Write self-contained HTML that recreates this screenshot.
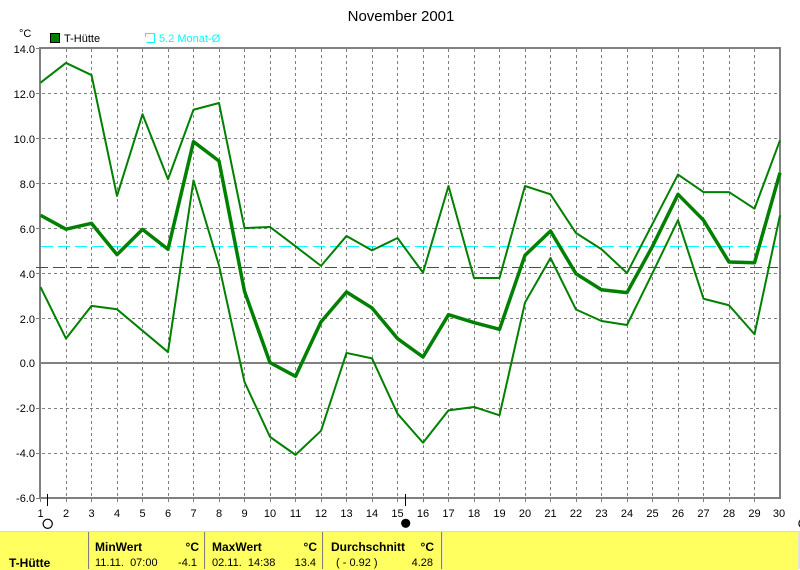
<!DOCTYPE html>
<html>
<head>
<meta charset="utf-8">
<style>
html,body{margin:0;padding:0;background:#fff;}
body{width:800px;height:569px;overflow:hidden;position:relative;font-family:"Liberation Sans",Arial,sans-serif;}
svg{position:absolute;left:0;top:0;}
.tbl{position:absolute;left:0;top:531px;width:798px;height:38px;background:#ffff60;border-top:1px solid #d8d8d8;}
.sep{position:absolute;top:532px;height:37px;width:1px;background:#808080;border-right:1px solid #e8e8b0;}
.t{position:absolute;font-size:11px;white-space:pre;color:#000;line-height:12px;}
.b{font-weight:bold;font-size:12px;}
</style>
</head>
<body>
<svg width="800" height="569" viewBox="0 0 800 569" xmlns="http://www.w3.org/2000/svg">
  <!-- title -->
  <text x="401" y="21" font-family="Liberation Sans, Arial, sans-serif" font-size="15" text-anchor="middle" fill="#000">November 2001</text>
  <!-- legend -->
  <text x="19" y="37" font-family="Liberation Sans, Arial, sans-serif" font-size="11" fill="#000">°C</text>
  <rect x="50.5" y="33.5" width="9" height="9" fill="#008000" stroke="#000" stroke-width="1"/>
  <text x="64" y="42" font-family="Liberation Sans, Arial, sans-serif" font-size="11" fill="#000">T-Hütte</text>
  <path d="M145.5,37 V33.5 H154.5 V42.5 H146.5" fill="none" stroke="#00ffff" stroke-width="1"/>
  <text x="159" y="42" font-family="Liberation Sans, Arial, sans-serif" font-size="11" fill="#00ffff">5.2 Monat-Ø</text>

  <!-- grid -->
  <g stroke="#808080" stroke-width="1" stroke-dasharray="3,3" shape-rendering="crispEdges" fill="none">
    <path d="M66.5,49V502 M91.5,49V502 M117.5,49V502 M142.5,49V502 M168.5,49V502 M193.5,49V502 M219.5,49V502 M244.5,49V502 M270.5,49V502 M295.5,49V502 M321.5,49V502 M346.5,49V502 M372.5,49V502 M397.5,49V502 M423.5,49V502 M448.5,49V502 M474.5,49V502 M499.5,49V502 M525.5,49V502 M550.5,49V502 M576.5,49V502 M601.5,49V502 M627.5,49V502 M652.5,49V502 M678.5,49V502 M703.5,49V502 M729.5,49V502 M754.5,49V502"/>
    <path d="M36,93.5H779 M36,138.5H779 M36,183.5H779 M36,228.5H779 M36,273.5H779 M36,318.5H779 M36,408.5H779 M36,453.5H779"/>
  </g>
  <g stroke="#808080" stroke-width="1" shape-rendering="crispEdges">
    <path d="M36,48.5H40 M36,498.5H40 M40.5,498V502"/>
  </g>
  <!-- frame -->
  <g stroke="#808080" stroke-width="2" fill="none" shape-rendering="crispEdges">
    <path d="M40,47V499 M39,48H781 M780,47V499 M39,498H781"/>
    <path d="M40,363H780"/>
  </g>

  <!-- avg lines -->
  <line x1="41" y1="246.5" x2="778" y2="246.5" stroke="#00ffff" stroke-width="1" stroke-dasharray="12,5"/>
  <line x1="36" y1="267.5" x2="778" y2="267.5" stroke="#008000" stroke-width="1" stroke-dasharray="12,5"/>

  <!-- data -->
  <g transform="translate(40.5,363.3) scale(25.5,-22.5)" fill="none" stroke="#008000" stroke-linejoin="round">
    <polyline vector-effect="non-scaling-stroke" stroke-width="2" points="0,12.47 1,13.35 2,12.81 3,7.44 4,11.07 5,8.18 6,11.27 7,11.57 8,6.01 9,6.06 10,5.2 11,4.33 12,5.66 13,5.02 14,5.57 15,4.03 16,7.88 17,3.79 18,3.79 19,7.88 20,7.51 21,5.79 22,5.07 23,4.01 24,6.2 25,8.39 26,7.61 27,7.61 28,6.87 29,9.91"/>
    <polyline vector-effect="non-scaling-stroke" stroke-width="2" points="0,3.39 1,1.1 2,2.55 3,2.4 4,1.45 5,0.5 6,8.13 7,4.35 8,-0.83 9,-3.27 10,-4.07 11,-3.0 12,0.46 13,0.22 14,-2.24 15,-3.53 16,-2.09 17,-1.94 18,-2.31 19,2.7 20,4.68 21,2.39 22,1.88 23,1.7 24,4.01 25,6.36 26,2.87 27,2.58 28,1.29 29,6.58"/>
    <polyline vector-effect="non-scaling-stroke" stroke-width="3.5" points="0,6.58 1,5.96 2,6.22 3,4.83 4,5.95 5,5.07 6,9.85 7,8.99 8,3.2 9,0.03 10,-0.58 11,1.84 12,3.17 13,2.46 14,1.1 15,0.28 16,2.16 17,1.81 18,1.51 19,4.8 20,5.88 21,3.98 22,3.27 23,3.14 24,5.2 25,7.51 26,6.36 27,4.5 28,4.47 29,8.47"/>
  </g>

  <!-- y labels -->
  <g font-family="Liberation Sans, Arial, sans-serif" font-size="11" fill="#000" text-anchor="end">
    <text x="35" y="53">14.0</text>
    <text x="35" y="98">12.0</text>
    <text x="35" y="143">10.0</text>
    <text x="35" y="188">8.0</text>
    <text x="35" y="233">6.0</text>
    <text x="35" y="278">4.0</text>
    <text x="35" y="323">2.0</text>
    <text x="35" y="367">0.0</text>
    <text x="35" y="412">-2.0</text>
    <text x="35" y="457">-4.0</text>
    <text x="35" y="502">-6.0</text>
  </g>
  <!-- x labels -->
  <g font-family="Liberation Sans, Arial, sans-serif" font-size="11" fill="#000" text-anchor="middle">
    <text x="40.5" y="517">1</text><text x="66" y="517">2</text><text x="91.5" y="517">3</text><text x="117" y="517">4</text><text x="142.5" y="517">5</text><text x="168" y="517">6</text><text x="193.5" y="517">7</text><text x="219" y="517">8</text><text x="244.5" y="517">9</text><text x="270" y="517">10</text><text x="295.5" y="517">11</text><text x="321" y="517">12</text><text x="346.5" y="517">13</text><text x="372" y="517">14</text><text x="397.5" y="517">15</text><text x="423" y="517">16</text><text x="448.5" y="517">17</text><text x="474" y="517">18</text><text x="499.5" y="517">19</text><text x="525" y="517">20</text><text x="550.5" y="517">21</text><text x="576" y="517">22</text><text x="601.5" y="517">23</text><text x="627" y="517">24</text><text x="652.5" y="517">25</text><text x="678" y="517">26</text><text x="703.5" y="517">27</text><text x="729" y="517">28</text><text x="754.5" y="517">29</text><text x="779" y="517">30</text>
  </g>
  <!-- moon markers -->
  <g stroke="#000" stroke-width="1">
    <line x1="47.5" y1="494" x2="47.5" y2="506"/>
    <line x1="405.5" y1="494" x2="405.5" y2="506"/>
  </g>
  <circle cx="47.7" cy="523.8" r="4.6" fill="#fff" stroke="#000" stroke-width="1.2"/>
  <circle cx="405.7" cy="523.3" r="4.6" fill="#000"/>
  <circle cx="803.5" cy="523.5" r="4.6" fill="#fff" stroke="#000" stroke-width="1.2"/>
</svg>

<div class="tbl"></div>
<div class="sep" style="left:88px"></div>
<div class="sep" style="left:204px"></div>
<div class="sep" style="left:322px"></div>
<div class="sep" style="left:441px"></div>
<div style="position:absolute;left:798px;top:531px;width:2px;height:38px;background:#e0e0e0;"></div>

<div class="t b" style="left:9px;top:557px;">T-Hütte</div>

<div class="t b" style="left:95px;top:541px;">MinWert</div>
<div class="t b" style="left:170px;width:29px;text-align:right;top:541px;">°C</div>
<div class="t" style="left:95px;top:557px;">11.11.  07:00</div>
<div class="t" style="left:160px;width:37px;text-align:right;top:557px;">-4.1</div>

<div class="t b" style="left:212px;top:541px;">MaxWert</div>
<div class="t b" style="left:287px;width:30px;text-align:right;top:541px;">°C</div>
<div class="t" style="left:212px;top:557px;">02.11.  14:38</div>
<div class="t" style="left:280px;width:36px;text-align:right;top:557px;">13.4</div>

<div class="t b" style="left:331px;top:541px;">Durchschnitt</div>
<div class="t b" style="left:404px;width:30px;text-align:right;top:541px;">°C</div>
<div class="t" style="left:336px;top:557px;">( - 0.92 )</div>
<div class="t" style="left:397px;width:36px;text-align:right;top:557px;">4.28</div>
</body>
</html>
